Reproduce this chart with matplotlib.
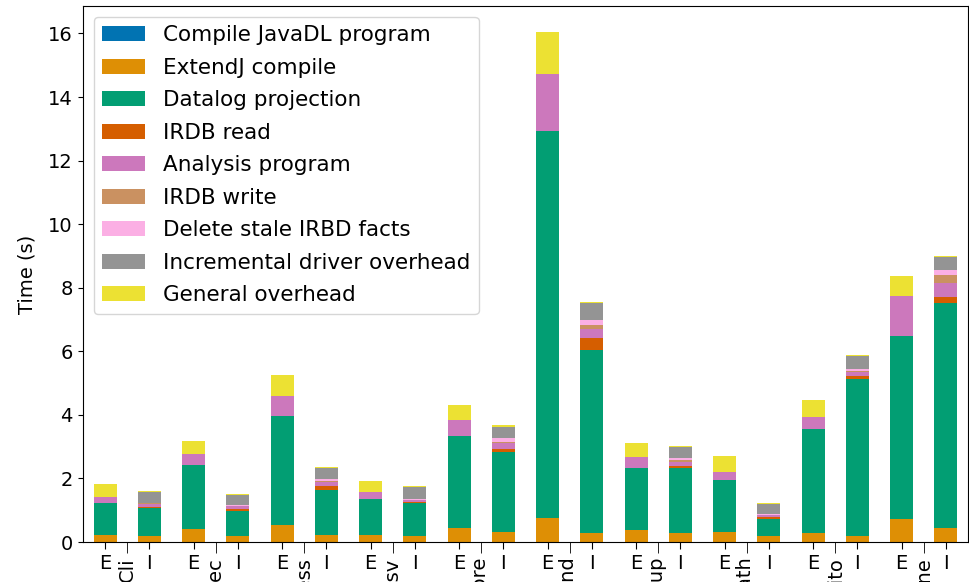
import numpy as np
import matplotlib
matplotlib.use("Agg")
import matplotlib.pyplot as plt

projects = ["Cli", "Codec", "Compress", "Csv", "JacksonCore",
            "JacksonDatabind", "Jsoup", "JxPath", "Mockito", "Lucene"]
modes = ["E", "I"]

# one value per bar, bars ordered E, I for each project
compile_javadl = [0.0] * 20
extendj = [0.22, 0.20, 0.41, 0.19, 0.53, 0.22, 0.22, 0.19, 0.45, 0.33,
           0.77, 0.29, 0.38, 0.28, 0.31, 0.19, 0.28, 0.20, 0.73, 0.45]
datalog = [1.01, 0.88, 2.02, 0.79, 3.42, 1.43, 1.13, 1.04, 2.90, 2.51,
           12.17, 5.76, 1.96, 2.06, 1.65, 0.53, 3.29, 4.94, 5.74, 7.07]
irdb_read = [0.0, 0.02, 0.0, 0.06, 0.0, 0.11, 0.0, 0.03, 0.0, 0.08,
             0.0, 0.37, 0.0, 0.06, 0.0, 0.08, 0.0, 0.09, 0.0, 0.19]
analysis = [0.19, 0.10, 0.35, 0.08, 0.63, 0.13, 0.22, 0.06, 0.49, 0.19,
            1.77, 0.28, 0.34, 0.13, 0.25, 0.05, 0.35, 0.13, 1.26, 0.44]
irdb_write = [0.0, 0.02, 0.0, 0.02, 0.0, 0.02, 0.0, 0.01, 0.0, 0.05,
              0.0, 0.12, 0.0, 0.05, 0.0, 0.01, 0.0, 0.02, 0.0, 0.25]
delete_stale = [0.0, 0.02, 0.0, 0.03, 0.0, 0.07, 0.0, 0.02, 0.0, 0.11,
                0.0, 0.17, 0.0, 0.07, 0.0, 0.03, 0.0, 0.06, 0.0, 0.15]
incr_overhead = [0.0, 0.335, 0.0, 0.31, 0.0, 0.35, 0.0, 0.38, 0.0, 0.36,
                 0.0, 0.52, 0.0, 0.34, 0.0, 0.32, 0.0, 0.40, 0.0, 0.42]
general = [0.41, 0.04, 0.41, 0.04, 0.68, 0.04, 0.36, 0.04, 0.47, 0.04,
           1.35, 0.04, 0.43, 0.04, 0.51, 0.03, 0.56, 0.03, 0.64, 0.04]

series = [
    ("Compile JavaDL program", compile_javadl),
    ("ExtendJ compile", extendj),
    ("Datalog projection", datalog),
    ("IRDB read", irdb_read),
    ("Analysis program", analysis),
    ("IRDB write", irdb_write),
    ("Delete stale IRBD facts", delete_stale),
    ("Incremental driver overhead", incr_overhead),
    ("General overhead", general),
]
colors = ["#0173b2", "#de8f05", "#029e73", "#d55e00", "#cc78bc",
          "#ca9161", "#fbafe4", "#949494", "#ece133"]

fig = plt.figure(figsize=(9.69, 5.82), dpi=100)
ax = fig.add_axes([0.0857, 0.0687, 0.9133, 0.921])

x = np.arange(len(projects) * 2)
bottom = np.zeros(len(x))
for (label, vals), c in zip(series, colors):
    vals = np.array(vals)
    ax.bar(x, vals, 0.52, bottom=bottom, color=c, label=label)
    bottom += vals

ax.set_xlim(-0.5, len(x) - 0.5)
ax.set_xticks(x)
ax.set_xticklabels(modes * len(projects), fontsize=14)
ax.set_xticks(np.arange(len(projects)) * 2 + 0.5, minor=True)
ax.set_xticklabels(projects, minor=True, rotation=90, fontsize=14)
ax.tick_params(axis="x", which="major", length=5)
ax.tick_params(axis="x", which="minor", length=8, pad=3)
ax.tick_params(axis="y", labelsize=14, pad=4)
ax.set_ylabel("Time (s)", fontsize=14, labelpad=8)
ax.legend(loc="upper left", fontsize=15.5, labelspacing=0.58)

fig.savefig("out.png", dpi=100)
